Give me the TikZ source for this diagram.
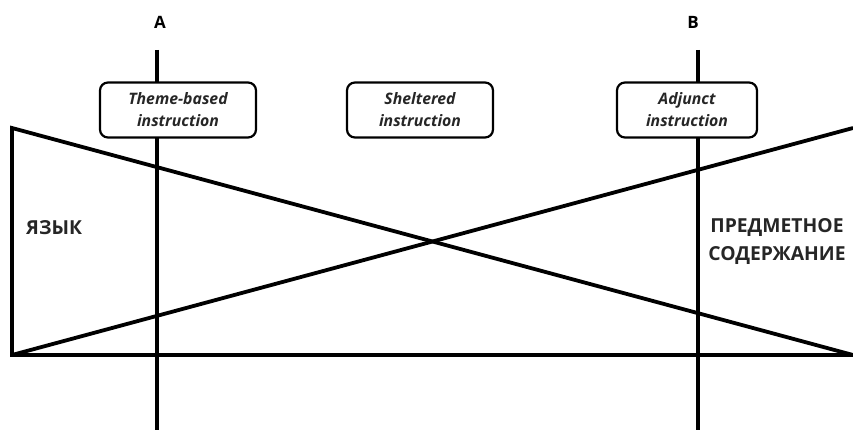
\documentclass[tikz,border=0pt]{standalone}
\usepackage{fontspec}
\setmainfont{Open Sans}
\usetikzlibrary{positioning}

\tikzset{
  method/.style={draw, line width=2.2pt, rounded corners=8pt, fill=white,
    minimum width=156pt, minimum height=55pt, align=center,
    font=\fontsize{15.8}{22}\selectfont\bfseries\itshape, text=black!85},
  axis/.style={font=\fontsize{17}{20}\selectfont\bfseries},
  side/.style={font=\fontsize{19.3}{28}\selectfont\bfseries, text=black!85, align=center}
}

\begin{document}
\begin{tikzpicture}[x=1pt,y=-1pt,line width=3.8pt]
        \useasboundingbox (0,0) rectangle (853,430);
        % corners of the two triangles
        \coordinate (tl) at (12,128);
        \coordinate (bl) at (12,355);
        \coordinate (tr) at (853,128);
        \coordinate (br) at (853,355);
        % the two cuts A and B
        \node[axis] (A) at (160,22) {A};
        \node[axis] (B) at (693,22) {B};
        \coordinate (topA) at (157,50);
        \coordinate (botA) at (157,432);
        \coordinate (topB) at (698,50);
        \coordinate (botB) at (698,432);
        \draw (br) -- (tl) -- (bl) -- (br);
        \draw (bl) -- (tr);
        \draw (topA) -- (botA);
        \draw (topB) -- (botB);
        % boxes
        \node[method] (theme) at (178,110) {Theme-based\\instruction};
        \node[method, minimum width=146pt] (sheltered) at (420,110) {Sheltered\\instruction};
        \node[method, minimum width=140pt] (adjunct) at (687,110) {Adjunct\\instruction};
        % sides
        \node[side, anchor=west] (lang) at (21,228) {ЯЗЫК};
        \node[side] (content) at (777,242) {ПРЕДМЕТНОЕ\\СОДЕРЖАНИЕ};
\end{tikzpicture}
\end{document}
